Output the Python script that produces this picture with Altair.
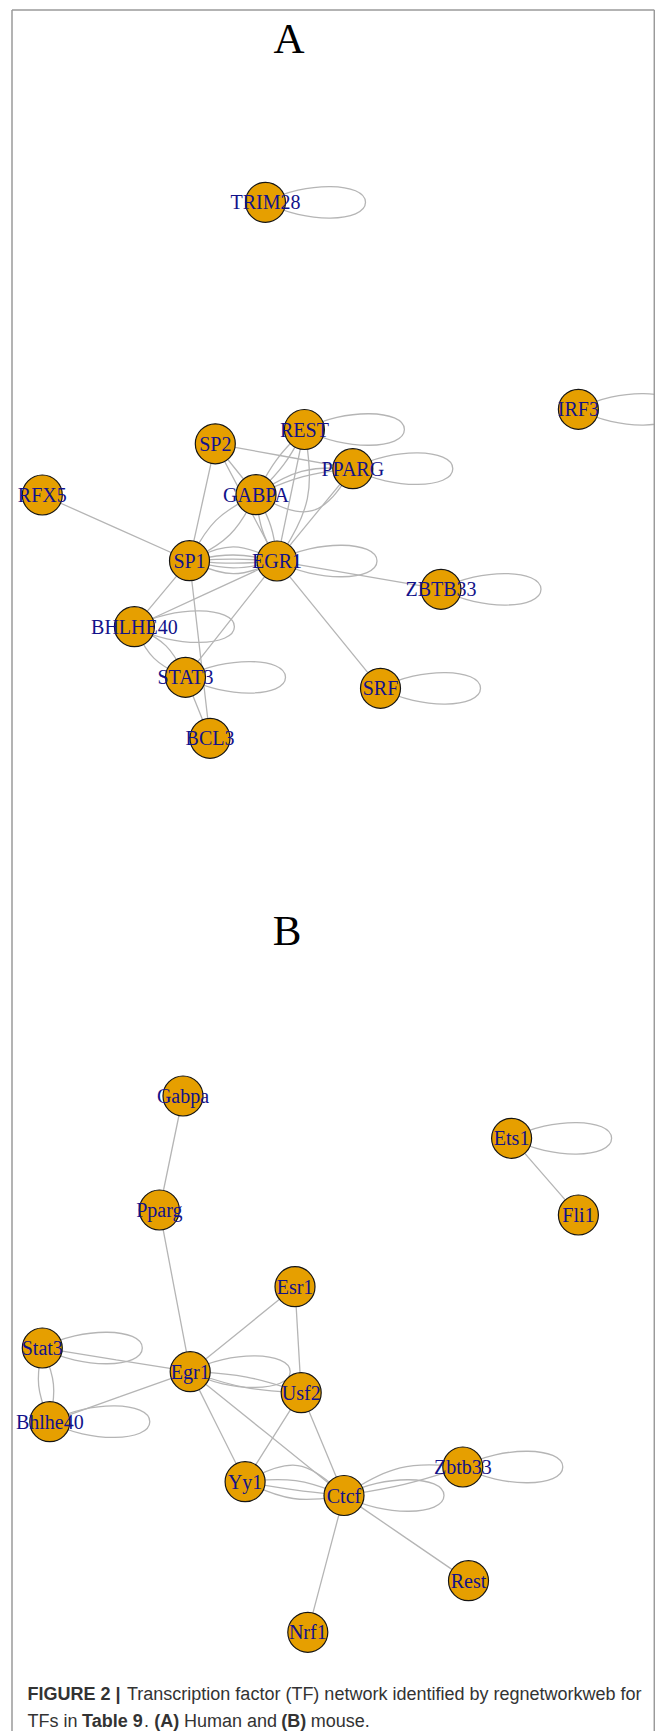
import altair as alt
import pandas as pd

# ---------------- Panel A : human TF network (layout coordinates) ----------------
a_names = ["TRIM28", "IRF3", "REST", "SP2", "PPARG", "RFX5", "GABPA",
           "SP1", "EGR1", "ZBTB33", "BHLHE40", "STAT3", "SRF", "BCL3"]
a_x = [265.5, 578.4, 304.4, 215.3, 352.8, 42.3, 256.0,
       189.5, 277.0, 441.0, 134.4, 185.5, 380.5, 210.0]
a_y = [202.3, 409.3, 429.5, 443.8, 468.7, 495.0, 494.7,
       560.7, 561.0, 589.3, 626.7, 677.3, 688.3, 738.3]
a_loops = ["TRIM28", "IRF3", "REST", "PPARG", "EGR1", "ZBTB33",
           "BHLHE40", "STAT3", "SRF"]
# (source, target, curvature)
a_edges = [
    ("SP1", "RFX5", 0), ("SP1", "SP2", 0), ("SP2", "GABPA", 0),
    ("SP2", "EGR1", 0), ("SP2", "PPARG", 0),
    ("REST", "GABPA", 0.08), ("REST", "GABPA", -0.08),
    ("REST", "EGR1", 0), ("REST", "EGR1", -0.19),
    ("GABPA", "PPARG", -0.08), ("GABPA", "PPARG", -0.16), ("GABPA", "PPARG", 0.45),
    ("PPARG", "EGR1", 0),
    ("GABPA", "EGR1", 0.1), ("GABPA", "EGR1", -0.1),
    ("SP1", "GABPA", 0.16), ("SP1", "GABPA", -0.16),
    ("SP1", "EGR1", -0.24), ("SP1", "EGR1", -0.1), ("SP1", "EGR1", -0.03),
    ("SP1", "EGR1", 0.04), ("SP1", "EGR1", 0.12), ("SP1", "EGR1", 0.22),
    ("EGR1", "ZBTB33", 0), ("EGR1", "SRF", 0), ("EGR1", "BHLHE40", 0),
    ("EGR1", "STAT3", 0), ("SP1", "BHLHE40", 0), ("SP1", "BCL3", 0),
    ("BHLHE40", "STAT3", 0.18), ("BHLHE40", "STAT3", -0.18),
    ("STAT3", "BCL3", 0),
]

# ---------------- Panel B : mouse TF network ----------------
b_names = ["Gabpa", "Ets1", "Pparg", "Fli1", "Esr1", "Stat3", "Egr1",
           "Usf2", "Bhlhe40", "Zbtb33", "Yy1", "Ctcf", "Rest", "Nrf1"]
b_x = [183.0, 511.6, 159.4, 578.4, 295.0, 42.3, 190.2,
       301.2, 49.8, 462.8, 245.1, 344.0, 468.5, 307.8]
b_y = [1096.0, 1138.3, 1210.0, 1215.0, 1286.7, 1348.0, 1371.7,
       1392.7, 1421.7, 1467.0, 1481.7, 1495.5, 1580.7, 1632.3]
b_loops = ["Ets1", "Stat3", "Egr1", "Bhlhe40", "Zbtb33", "Ctcf"]
b_edges = [
    ("Gabpa", "Pparg", 0), ("Ets1", "Fli1", 0), ("Pparg", "Egr1", 0),
    ("Esr1", "Egr1", 0), ("Esr1", "Usf2", 0), ("Stat3", "Egr1", 0),
    ("Stat3", "Bhlhe40", 0.15), ("Stat3", "Bhlhe40", -0.15),
    ("Bhlhe40", "Egr1", 0),
    ("Egr1", "Usf2", 0.07), ("Egr1", "Usf2", -0.07),
    ("Egr1", "Yy1", 0), ("Egr1", "Ctcf", 0),
    ("Usf2", "Yy1", 0), ("Usf2", "Ctcf", 0),
    ("Yy1", "Ctcf", -0.35), ("Yy1", "Ctcf", -0.12), ("Yy1", "Ctcf", 0.02), ("Yy1", "Ctcf", 0.15),
    ("Ctcf", "Zbtb33", -0.17), ("Ctcf", "Zbtb33", 0.04),
    ("Ctcf", "Rest", 0), ("Ctcf", "Nrf1", 0),
]

# panel letters and caption
panel_letters = ["A", "B"]
letter_x = [289, 287]
letter_y = [52.5, 945]

cap_text = ["FIGURE 2 |",
            "Transcription factor (TF) network identified by regnetworkweb for",
            "TFs in", "Table 9", ".", "(A)", "Human and", "(B)", "mouse."]
cap_bold = [True, False, False, True, False, True, False, True, False]
cap_x = [27.5, 127.0, 27.5, 82.0, 144.0, 154.3, 184.0, 281.2, 310.8]
cap_y = [1700, 1700, 1726.7, 1726.7, 1726.7, 1726.7, 1726.7, 1726.7, 1726.7]

# frame box of the figure (left, right, top, bottom)
frame_x = [12, 654.3]
frame_y = [10, 1740]

# ---------------- build tables ----------------
nodes = pd.DataFrame({
    "name": a_names + b_names,
    "x": a_x + b_x,
    "y": a_y + b_y,
    "panel": ["A"] * len(a_names) + ["B"] * len(b_names),
})
pos = {(r.panel, r.name): (r.x, r.y) for r in nodes.itertuples()}

rows = []
eid = 0
for panel, edges in (("A", a_edges), ("B", b_edges)):
    for s, t, c in edges:
        x0, y0 = pos[(panel, s)]
        x2, y2 = pos[(panel, t)]
        dx, dy = x2 - x0, y2 - y0
        bx, by = (x0 + x2) / 2 - c * dy, (y0 + y2) / 2 + c * dx
        for k, (px, py) in enumerate([(x0, y0), (bx, by), (x2, y2)]):
            rows.append({"eid": eid, "k": k, "x": px, "y": py})
        eid += 1
edges_df = pd.DataFrame(rows)

loops_df = nodes[((nodes.panel == "A") & nodes.name.isin(a_loops)) |
                 ((nodes.panel == "B") & nodes.name.isin(b_loops))]

letters_df = pd.DataFrame({"t": panel_letters, "x": letter_x, "y": letter_y})
cap_df = pd.DataFrame({"t": cap_text, "bold": cap_bold, "x": cap_x, "y": cap_y})
frame_df = pd.DataFrame({
    "x": [frame_x[0], frame_x[0], frame_x[1]],
    "x2": [frame_x[1], frame_x[0], frame_x[1]],
    "y": [frame_y[0], frame_y[0], frame_y[0]],
    "y2": [frame_y[0], frame_y[1], frame_y[1]],
})

W, H = 647, 1723
xs = alt.Scale(domain=[8, 8 + W], nice=False, zero=False)
ys = alt.Scale(domain=[8, 8 + H], nice=False, zero=False, reverse=True)
X = alt.X("x:Q", scale=xs, axis=None)
Y = alt.Y("y:Q", scale=ys, axis=None)

EDGE = "#b5b5b5"
LOOP = "M0,0C2,-1.1,5,-1.0,5,0C5,1.0,2,1.1,0,0"

frame_layer = alt.Chart(frame_df).mark_rule(color="#9a9a9a", strokeWidth=1.5).encode(
    x=X, x2="x2:Q", y=Y, y2="y2:Q")

edges_layer = alt.Chart(edges_df).mark_line(
    interpolate="basis", color=EDGE, strokeWidth=1.3
).encode(x=X, y=Y, detail="eid:N", order="k:O")

loops_layer = alt.Chart(loops_df).mark_point(
    shape=LOOP, filled=False, size=1600, stroke=EDGE, strokeWidth=1.3, opacity=1
).encode(x=X, y=Y)

nodes_layer = alt.Chart(nodes).mark_point(
    shape="circle", filled=True, size=1600, fill="#E69F00",
    stroke="#151515", strokeWidth=1.2, opacity=1
).encode(x=X, y=Y)

labels_layer = alt.Chart(nodes).mark_text(
    font="Liberation Serif", fontSize=20, color="#12128a",
    align="center", baseline="alphabetic", dy=7
).encode(x=X, y=Y, text="name:N")

letters_layer = alt.Chart(letters_df).mark_text(
    font="Liberation Serif", fontSize=43, color="#000000",
    align="center", baseline="alphabetic"
).encode(x=X, y=Y, text="t:N")

cap_reg = alt.Chart(cap_df).transform_filter("!datum.bold").mark_text(
    font="Liberation Sans", fontSize=18, color="#333333",
    align="left", baseline="alphabetic"
).encode(x=X, y=Y, text="t:N")

cap_bold_layer = alt.Chart(cap_df).transform_filter("datum.bold").mark_text(
    font="Liberation Sans", fontSize=18, fontWeight="bold", color="#333333",
    align="left", baseline="alphabetic"
).encode(x=X, y=Y, text="t:N")

chart = alt.layer(
    edges_layer, loops_layer, frame_layer, nodes_layer, labels_layer,
    letters_layer, cap_reg, cap_bold_layer
).properties(
    width=W, height=H, autosize="none", padding=0, background="white"
).configure_view(stroke=None)

chart.save("out.html", embed_options={"renderer": "svg", "actions": False})
